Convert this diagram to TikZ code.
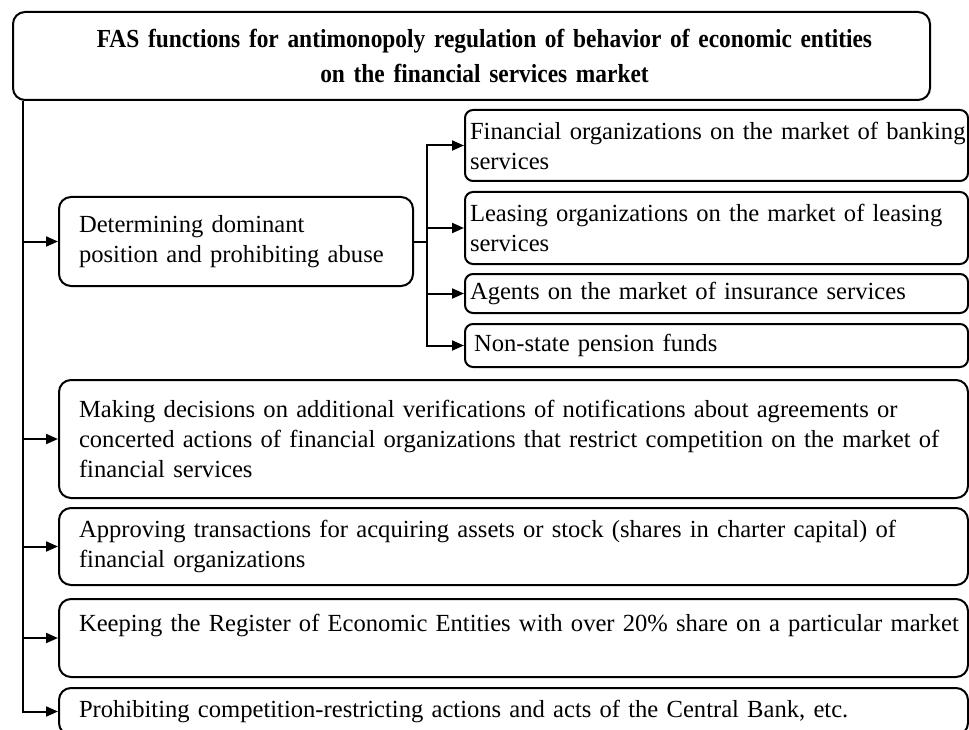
\documentclass[tikz,border=0pt]{standalone}
\usepackage{fontspec}
\setmainfont{Liberation Serif}
\newfontfamily\titrefont{Liberation Serif}[FakeStretch=0.9]
\usetikzlibrary{arrows.meta}

\tikzset{
  boite/.style={draw, line width=2pt, rounded corners=12pt, anchor=north west,
    align=left, inner ysep=0pt, inner xsep=14pt, text width=881pt,
    font=\fontsize{24.6}{30}\selectfont},
  marge/.style={execute at begin node={\leftskip=#1}},
  sousboite/.style={boite, rounded corners=8pt, inner xsep=3pt, text width=497pt,
    marge=2pt},
  fleche/.style={line width=2pt, -{Triangle[length=12pt,width=10pt]}},
}

\begin{document}
\begin{tikzpicture}[x=1pt,y=-1pt]

\path[use as bounding box, clip] (0,0) rectangle (969,730);
\fill[white] (0,0) rectangle (969,730);

% Titre
\node[boite, align=center, inner xsep=20pt, text width=877pt, minimum height=88pt,
  execute at begin node={\leftskip=26pt plus 1fil\rightskip=0pt plus 1fil\parfillskip=0pt},
  font=\titrefont\bfseries\fontsize{26}{35}\selectfont] (titre) at (12,11)
  {FAS functions for antimonopoly regulation of behavior of economic entities\\
   on the financial services market};

% Fonctions principales
\node[boite, text width=326pt, minimum height=89pt, marge=6pt] (domin) at (58,196)
  {Determining dominant\\ position and prohibiting abuse};
\node[boite, minimum height=118pt, marge=6pt] (decis) at (58,379)
  {Making decisions on additional verifications of notifications about agreements or\\
   \mbox{concerted actions of financial organizations that restrict competition on the market of}\\
   financial services};
\node[boite, minimum height=77pt, marge=6pt] (trans) at (58,507)
  {Approving transactions for acquiring assets or stock (shares in charter capital) of\\
   financial organizations};
\node[boite, minimum height=78pt, marge=6pt] (regis) at (58,598)
  {\mbox{Keeping the Register of Economic Entities with over 20\% share on a particular market}\\ ~};
\node[boite, minimum height=47pt, marge=6pt] (prohib) at (58,687)
  {Prohibiting competition-restricting actions and acts of the Central Bank, etc.};

% Sous-fonctions
\node[sousboite, minimum height=71pt] (banc) at (464,109)
  {\mbox{Financial organizations on the market of banking}\\ services};
\node[sousboite, minimum height=72pt] (leas) at (464,191)
  {Leasing organizations on the market of leasing\\ services};
\node[sousboite, minimum height=39pt] (assur) at (464,273)
  {Agents on the market of insurance services};
\node[sousboite, minimum height=43pt] (pens) at (464,323)
  {\,Non-state pension funds};

% Tronc
\coordinate (tronc) at ([xshift=11pt]titre.south west);
\foreach \b in {domin,decis,trans,regis,prohib}
  \draw[fleche] (tronc) |- (\b.west);

% Branches
\coordinate (noeud) at ([xshift=13pt]domin.east);
\draw[line width=2pt] (domin.east) -- (noeud);
\foreach \b in {banc,leas,assur,pens}
  \draw[fleche] (noeud) |- (\b.west);

\end{tikzpicture}
\end{document}
